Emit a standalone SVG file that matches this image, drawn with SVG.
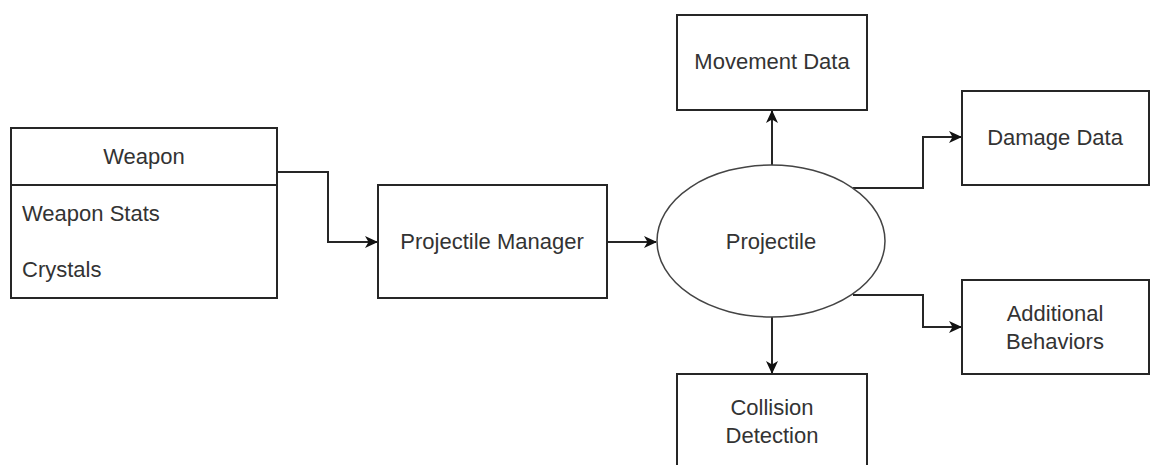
<svg xmlns="http://www.w3.org/2000/svg" width="1151" height="465" viewBox="0 0 1151 465">
<style>
.box{fill:#fff;stroke:#262626;stroke-width:2}
.t{font-family:"Liberation Sans",Arial,sans-serif;font-size:22px;fill:#333;text-anchor:middle;dominant-baseline:central}
.tl{text-anchor:start}
.c{fill:none;stroke:#262626;stroke-width:2;marker-end:url(#ah)}
</style>
<defs>
<marker id="ah" markerWidth="14" markerHeight="14" refX="12" refY="7" orient="auto" markerUnits="userSpaceOnUse">
<path d="M0,1 L13,7 L0,13 L3.5,7 Z" fill="#111"/>
</marker>
</defs>
<rect width="1151" height="465" fill="#fff"/>
<g id="connectors">
<path class="c" d="M277,172 H328 V242 H377"/>
<path class="c" d="M607,242 H656"/>
<path class="c" d="M772,165 V111"/>
<path class="c" d="M853,188 H923 V137 H961"/>
<path class="c" d="M853,295 H923 V327 H961"/>
<path class="c" d="M772,317 V373"/>
</g>
<g id="weapon">
<rect class="box" x="11" y="128" width="266" height="170"/>
<line x1="11" y1="185" x2="277" y2="185" stroke="#262626" stroke-width="2"/>
<text class="t" x="144" y="156">Weapon</text>
<text class="t tl" x="22" y="213">Weapon Stats</text>
<text class="t tl" x="22" y="269">Crystals</text>
</g>
<g id="projectile-manager">
<rect class="box" x="378" y="185" width="229" height="113"/>
<text class="t" x="492" y="241">Projectile Manager</text>
</g>
<g id="projectile">
<ellipse cx="771" cy="241" rx="114" ry="76" fill="#fff" stroke="#444" stroke-width="1.5"/>
<text class="t" x="771" y="241">Projectile</text>
</g>
<g id="movement-data">
<rect class="box" x="677" y="15" width="190" height="95"/>
<text class="t" x="772" y="61">Movement Data</text>
</g>
<g id="damage-data">
<rect class="box" x="962" y="91" width="187" height="94"/>
<text class="t" x="1055" y="137">Damage Data</text>
</g>
<g id="additional-behaviors">
<rect class="box" x="962" y="280" width="187" height="94"/>
<text class="t" x="1055" y="313">Additional</text>
<text class="t" x="1055" y="341">Behaviors</text>
</g>
<g id="collision-detection">
<rect class="box" x="677" y="374" width="190" height="100"/>
<text class="t" x="772" y="407">Collision</text>
<text class="t" x="772" y="435">Detection</text>
</g>
</svg>
